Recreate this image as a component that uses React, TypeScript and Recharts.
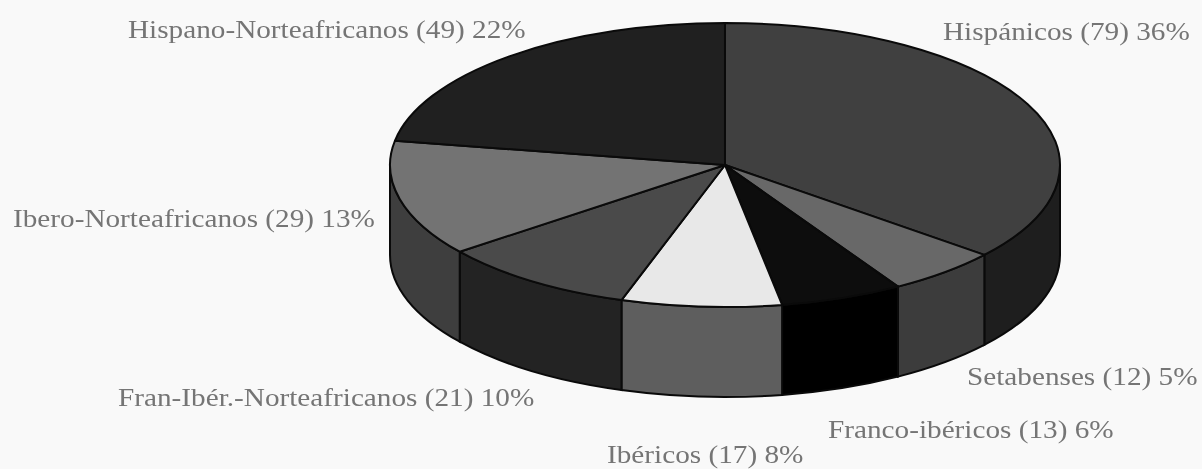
import { PieChart, Pie, Cell } from "recharts";

const categories = [
  "Hispánicos",
  "Setabenses",
  "Franco-ibéricos",
  "Ibéricos",
  "Fran-Ibér.-Norteafricanos",
  "Ibero-Norteafricanos",
  "Hispano-Norteafricanos",
];
const counts = [79, 12, 13, 17, 21, 29, 49];
const percents = [36, 5, 6, 8, 10, 13, 22];

const topColors = ["#404040", "#686868", "#0d0d0d", "#e8e8e8", "#4a4a4a", "#737373", "#202020"];
const wallColors = ["#1e1e1e", "#3c3c3c", "#000000", "#5e5e5e", "#232323", "#3e3e3e", "#202020"];

// where each label starts (left edge, baseline)
const labelSpots = [
  [943, 40],
  [967, 385],
  [828, 438],
  [607, 463],
  [118, 406],
  [13, 227],
  [128, 38],
];

const data = categories.map((name, i) => ({ name, value: counts[i], percent: percents[i] }));

const SQUASH = 0.424;
const DEPTH = 90;
const RAD = Math.PI / 180;

function Slice3D(props: any) {
  const { cx, cy, outerRadius, startAngle, endAngle, index } = props;
  const rx = outerRadius;
  const ry = outerRadius * SQUASH;
  const px = (a: number) => cx + rx * Math.cos(a * RAD);
  const py = (a: number) => cy - ry * Math.sin(a * RAD);
  const large = startAngle - endAngle > 180 ? 1 : 0;
  const top = `M${cx},${cy} L${px(startAngle)},${py(startAngle)} A${rx},${ry} 0 ${large} 1 ${px(endAngle)},${py(endAngle)} Z`;

  // only the part of the rim facing the viewer has a wall
  const a1 = Math.min(startAngle, 0);
  const a2 = Math.max(endAngle, -180);
  let wall = null;
  if (a1 > a2) {
    const d =
      `M${px(a1)},${py(a1)} A${rx},${ry} 0 0 1 ${px(a2)},${py(a2)} ` +
      `L${px(a2)},${py(a2) + DEPTH} A${rx},${ry} 0 0 0 ${px(a1)},${py(a1) + DEPTH} Z`;
    wall = <path d={d} fill={wallColors[index]} stroke="#0a0a0a" strokeWidth={2} />;
  }
  return (
    <g>
      {wall}
      <path d={top} fill={topColors[index]} stroke="#0a0a0a" strokeWidth={2} strokeLinejoin="round" />
    </g>
  );
}

function renderLabel(props: any) {
  const { index } = props;
  const [x, y] = labelSpots[index];
  return (
    <text
      transform={`translate(${x},${y}) scale(1.17,1)`}
      textAnchor="start"
      fill="#757575"
      fontFamily="'Liberation Serif', serif"
      fontSize={25}
    >
      {`${categories[index]} (${counts[index]}) ${percents[index]}%`}
    </text>
  );
}

export default function App() {
  return (
    <div style={{ width: 1202, height: 469, background: "#f9f9f9", filter: "blur(0.7px)" }}>
      <style>{"body{margin:0;background:#f9f9f9}"}</style>
      <PieChart width={1202} height={469} margin={{ top: 0, right: 0, bottom: 0, left: 0 }}>
        <Pie
          data={data}
          dataKey="value"
          nameKey="name"
          cx={725}
          cy={165}
          innerRadius={0}
          outerRadius={335}
          startAngle={90}
          endAngle={-270}
          paddingAngle={0}
          isAnimationActive={false}
          shape={Slice3D}
          label={renderLabel}
          labelLine={false}
        >
          {data.map((d, i) => (
            <Cell key={d.name} fill={topColors[i]} />
          ))}
        </Pie>
      </PieChart>
    </div>
  );
}
